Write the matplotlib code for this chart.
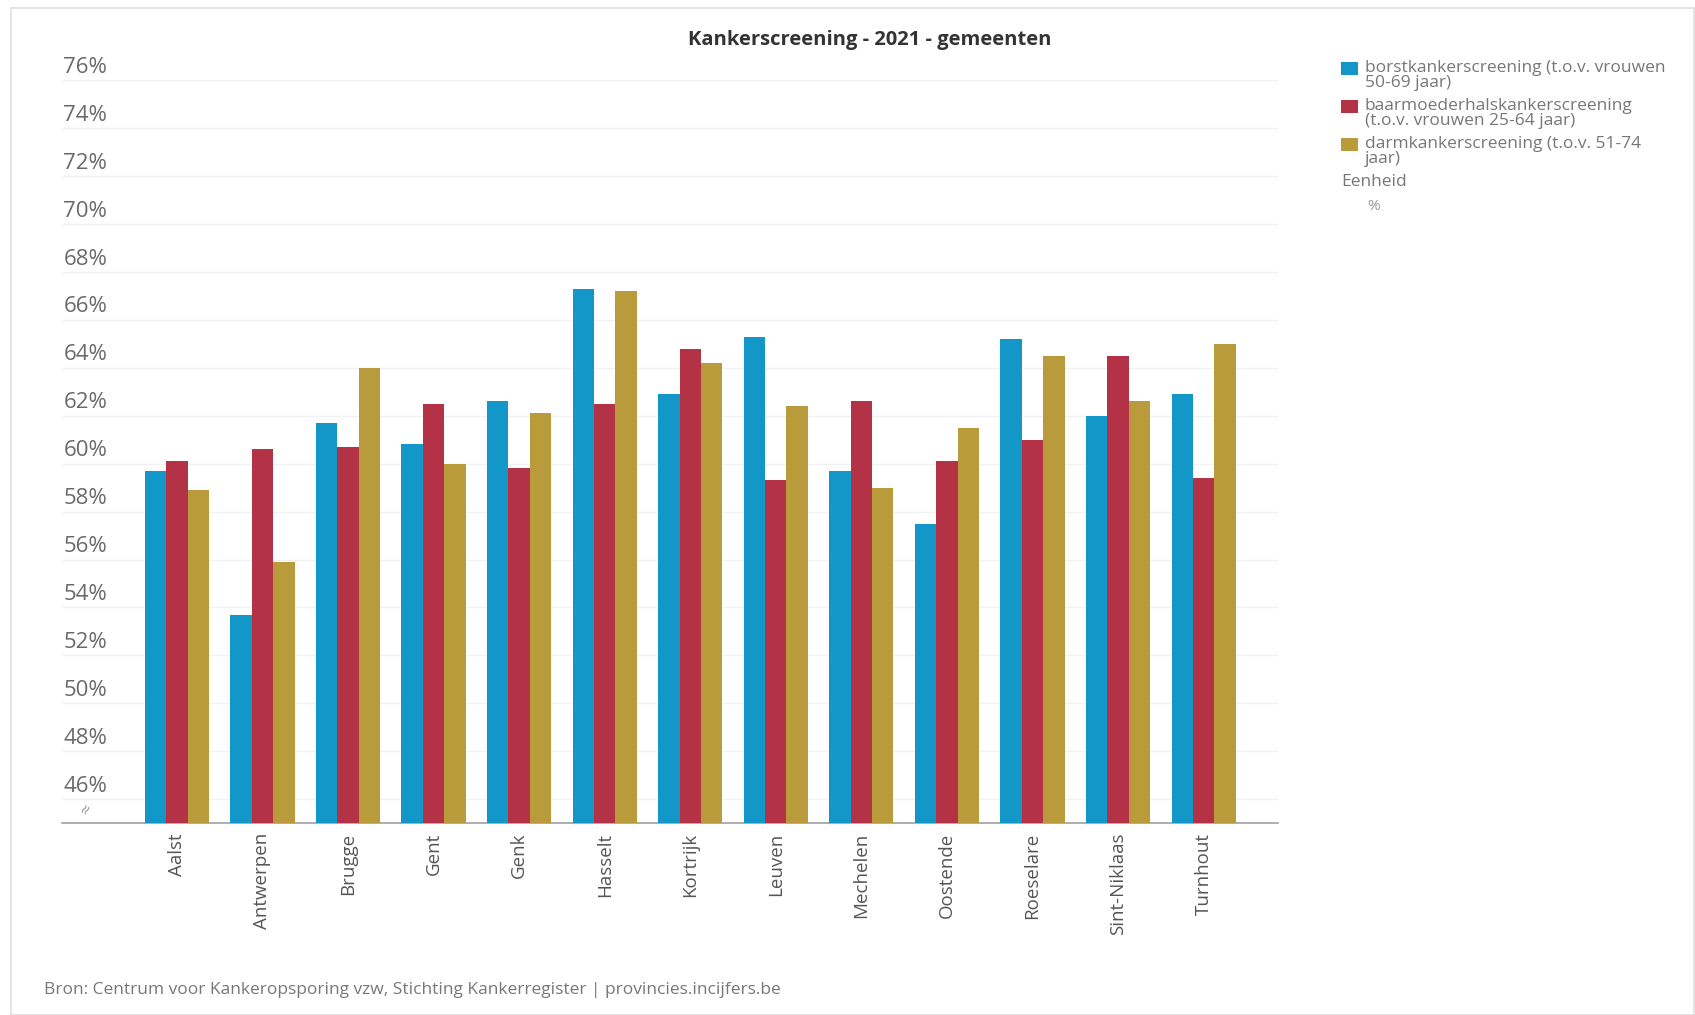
import numpy as np
import matplotlib.pyplot as plt
import matplotlib.patches as mpatches
import matplotlib.transforms as mtransforms

plt.rcParams['font.family'] = ['Open Sans', 'DejaVu Sans']

gemeenten = ["Aalst", "Antwerpen", "Brugge", "Gent", "Genk", "Hasselt", "Kortrijk",
             "Leuven", "Mechelen", "Oostende", "Roeselare", "Sint-Niklaas", "Turnhout"]

borst = [59.7, 53.7, 61.7, 60.8, 62.6, 67.3, 62.9, 65.3, 59.7, 57.5, 65.2, 62.0, 62.9]
baarmoeder = [60.1, 60.6, 60.7, 62.5, 59.8, 62.5, 64.8, 59.3, 62.6, 60.1, 61.0, 64.5, 59.4]
darm = [58.9, 55.9, 64.0, 60.0, 62.1, 67.2, 64.2, 62.4, 59.0, 61.5, 64.5, 62.6, 65.0]

series_labels = ["borstkankerscreening (t.o.v. vrouwen\n50-69 jaar)",
                 "baarmoederhalskankerscreening\n(t.o.v. vrouwen 25-64 jaar)",
                 "darmkankerscreening (t.o.v. 51-74\njaar)"]
y_ticks = list(range(46, 78, 2))

BLUE = "#1396c8"
RED = "#b43246"
GOLD = "#b99b3c"

fig = plt.figure(figsize=(16.95, 10.15), dpi=100)
ax = fig.add_axes([0.0366, 0.189, 0.7174, 0.732])

# light frame round the whole picture
fig.patches.append(mpatches.Rectangle((0.0065, 0.0), 0.993, 0.992, transform=fig.transFigure,
                                      facecolor="none", edgecolor="#dedede", linewidth=1.2))

x = np.arange(len(gemeenten))
w = 0.25
ax.bar(x - w, borst, w, color=BLUE, zorder=3)
ax.bar(x, baarmoeder, w, color=RED, zorder=3)
ax.bar(x + w, darm, w, color=GOLD, zorder=3)

ax.set_ylim(45, 76)
ax.set_xlim(-1.342, 12.87)

for s in ["top", "left", "right"]:
    ax.spines[s].set_visible(False)
ax.spines["bottom"].set_color("#a0a0a0")
ax.spines["bottom"].set_linewidth(1.2)

# gridlines + labels sitting above them
ax.set_yticks([])
trans = mtransforms.blended_transform_factory(ax.transAxes, ax.transData)
for v in y_ticks:
    ax.axhline(v, color="#f1f1f1", linewidth=1.0, zorder=1)
    ax.text(0.001, v + 0.1, f"{v}%", transform=trans, ha="left", va="bottom",
            fontsize=16, color="#6a6a6a", clip_on=False)

# axis break mark
ax.text(0.02, 45.55, "≈", transform=trans, ha="center", va="center",
        fontsize=13, color="#999999", rotation=60)

ax.set_xticks(x)
ax.set_xticklabels(gemeenten, rotation=90, fontsize=13.5, color="#555555")
ax.tick_params(axis="x", length=0, pad=7)

fig.text(0.513, 0.961, "Kankerscreening - 2021 - gemeenten", ha="center", va="center",
         fontsize=14.5, fontweight="bold", color="#333333")

# legend drawn by hand
colors = [BLUE, RED, GOLD]
ys = [68, 106, 144]
for c, lab, yy in zip(colors, series_labels, ys):
    fig.patches.append(mpatches.Rectangle((1341 / 1695, 1 - (yy + 7) / 1015), 17 / 1695, 13 / 1015,
                                          transform=fig.transFigure, facecolor=c, edgecolor="none"))
    fig.text(1365 / 1695, 1 - (yy - 8) / 1015, lab, ha="left", va="top", fontsize=12.5,
             color="#777777", linespacing=0.95)
fig.text(1341 / 1695, 1 - 182 / 1015, "Eenheid", ha="left", va="center", fontsize=12.5, color="#777777")
fig.text(1367 / 1695, 1 - 206 / 1015, "%", ha="left", va="center", fontsize=11, color="#999999")

fig.text(44 / 1695, 1 - 990 / 1015,
         "Bron: Centrum voor Kankeropsporing vzw, Stichting Kankerregister | provincies.incijfers.be",
         ha="left", va="center", fontsize=12.5, color="#777777")

plt.savefig("out.png", dpi=100)
